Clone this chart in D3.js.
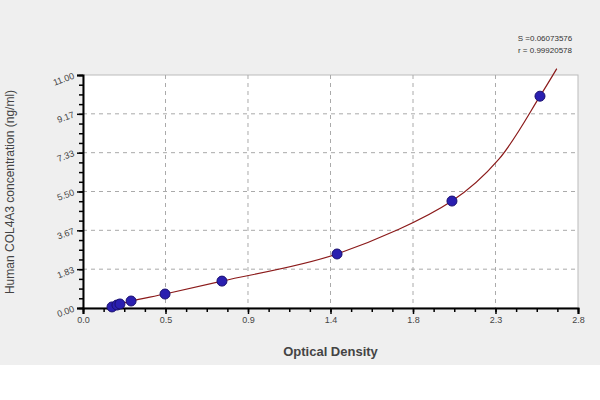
<!DOCTYPE html><html><head><script src="https://cdn.jsdelivr.net/npm/d3@7"></script>
<style>body{margin:0;background:#fff}</style></head><body><svg id="c" width="600" height="400"></svg>
<script>
const xTicks=[0,0.4667,0.9333,1.4,1.8667,2.3333,2.8];
const xTickLabels=["0.0","0.5","0.9","1.4","1.8","2.3","2.8"];
const yTicks=[0,1.833,3.667,5.5,7.333,9.167,11];
const yTickLabels=["0.00","1.83","3.67","5.50","7.33","9.17","11.00"];
const odValues=[0.164,0.192,0.209,0.272,0.464,0.786,1.437,2.087,2.585];
const concValues=[0.05,0.14,0.19,0.33,0.66,1.27,2.55,5.05,10.0];
const curveX=[0.164,0.272,0.464,0.786,1.437,2.087,2.35,2.585,2.68];
const curveY=[0.05,0.33,0.66,1.27,2.55,5.05,7.0,10.0,11.3];
const stats=["S =0.06073576","r = 0.99920578"];
const svg=d3.select("#c");
svg.append("rect").attr("width",600).attr("height",365).attr("fill","#efefef");
const L=83,R=578,T=75,B=308;
const x=d3.scaleLinear().domain([0,2.8]).range([L,R]);
const y=d3.scaleLinear().domain([0,11]).range([B,T]);
svg.append("rect").attr("x",L).attr("y",T).attr("width",R-L).attr("height",B-T).attr("fill","#fff").attr("stroke","#bbb");
const g=svg.append("g");
xTicks.slice(1,-1).forEach(t=>g.append("line").attr("x1",x(t)).attr("x2",x(t)).attr("y1",T).attr("y2",B).attr("stroke","#aaa").attr("stroke-dasharray","4,4"));
yTicks.slice(1,-1).forEach(t=>g.append("line").attr("y1",y(t)).attr("y2",y(t)).attr("x1",L).attr("x2",R).attr("stroke","#aaa").attr("stroke-dasharray","4,4"));
const minorX=d3.range(0,2.8001,2.8/24), minorY=d3.range(0,11.0001,11/24);
svg.append("g").attr("transform",`translate(0,${B})`).call(d3.axisBottom(x).tickValues(minorX).tickSize(4).tickFormat("")).call(a=>a.select(".domain").remove()).selectAll("line").attr("stroke-width",1.5);
svg.append("g").attr("transform",`translate(${L},0)`).call(d3.axisLeft(y).tickValues(minorY).tickSize(4).tickFormat("")).call(a=>a.select(".domain").remove()).selectAll("line").attr("stroke-width",1.5);
const xa=svg.append("g").attr("transform",`translate(0,${B})`).call(d3.axisBottom(x).tickValues(xTicks).tickSize(6).tickFormat((d,i)=>xTickLabels[i]));
xa.select(".domain").attr("stroke-width",2);xa.selectAll("line").attr("stroke-width",1.5);
xa.selectAll("text").attr("font-family","Arial, Liberation Sans").attr("font-size",9).attr("fill","#444");
const ya=svg.append("g").attr("transform",`translate(${L},0)`).call(d3.axisLeft(y).tickValues(yTicks).tickSize(6).tickFormat((d,i)=>yTickLabels[i]));
ya.select(".domain").attr("stroke-width",2);ya.selectAll("line").attr("stroke-width",1.5);
ya.selectAll("text").attr("font-family","Arial, Liberation Sans").attr("font-size",9).attr("fill","#444").attr("transform",function(){return "rotate(-20,-9,0)"});
svg.append("defs").append("clipPath").attr("id","cp").append("rect").attr("x",L).attr("y",30).attr("width",R-L).attr("height",B-30);
svg.append("path").attr("clip-path","url(#cp)").datum(curveX.map((v,i)=>[v,curveY[i]])).attr("fill","none").attr("stroke","#8b1a1a").attr("stroke-width",1.2)
 .attr("d",d3.line().x(d=>x(d[0])).y(d=>y(d[1])).curve(d3.curveCatmullRom.alpha(0.5)));
svg.selectAll("circle.p").data(odValues).join("circle").attr("cx",d=>x(d)).attr("cy",(d,i)=>y(concValues[i])).attr("r",5).attr("fill","#2a1fb0").attr("stroke","#1a1070");
svg.selectAll("text.s").data(stats).join("text").attr("x",545).attr("y",(d,i)=>41+i*12).attr("text-anchor","middle").attr("font-family","Arial, Liberation Sans").attr("font-size",8).attr("fill","#333").text(d=>d);
svg.append("text").attr("x",(L+R)/2).attr("y",356).attr("text-anchor","middle").attr("font-family","Arial, Liberation Sans").attr("font-size",13).attr("font-weight","bold").attr("fill","#444").text("Optical Density");
svg.append("text").attr("transform","translate(14,192) rotate(-90)").attr("text-anchor","middle").attr("font-family","Arial, Liberation Sans").attr("font-size",12).attr("fill","#444").text("Human COL4A3 concentration (ng/ml)");
</script></body></html>
